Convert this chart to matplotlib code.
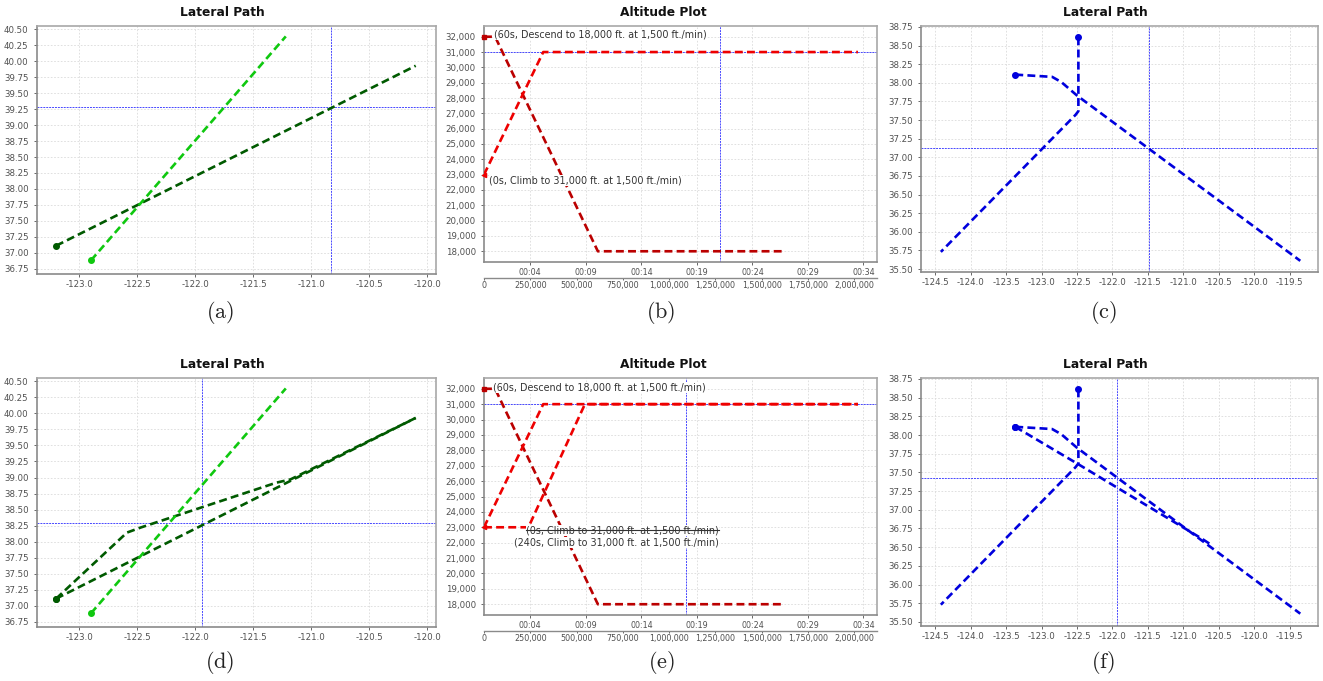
import matplotlib
matplotlib.use('Agg')
import matplotlib.pyplot as plt
from matplotlib.lines import Line2D

W, H = 1323, 681
plt.rcParams['font.family'] = ['DejaVu Sans']
plt.rcParams['mathtext.fontset'] = 'cm'

# ---------------- data ----------------
# (a) / (d) lateral path (longitude, latitude)
a_dark_lon = [-123.20, -120.10]
a_dark_lat = [37.11, 39.93]
a_light_lon = [-122.90, -121.22]
a_light_lat = [36.88, 40.39]
a_cross = (-120.83, 39.29)

d_dark2_lon = [-123.20, -122.59, -122.47, -121.30, -121.18, -120.10]
d_dark2_lat = [37.11, 38.14, 38.22, 38.92, 38.97, 39.93]
d_cross = (-121.945, 38.29)

lat_ticks_ad = [36.75, 37.00, 37.25, 37.50, 37.75, 38.00, 38.25, 38.50, 38.75,
                39.00, 39.25, 39.50, 39.75, 40.00, 40.25, 40.50]
lon_ticks_ad = [-123.0, -122.5, -122.0, -121.5, -121.0, -120.5, -120.0]

# (b) / (e) altitude plot (time in ms, altitude in ft)
desc_t = [0, 60000, 615000, 1625000]
desc_alt = [32000, 32000, 18000, 18000]
climb_t = [0, 320000, 2020000]
climb_alt = [23000, 31000, 31000]
climb240_t = [0, 240000, 545000, 2020000]
climb240_alt = [23000, 23000, 31000, 31000]
b_cross = (1277000, 31000)
e_cross = (1093000, 31000)
alt_ticks = list(range(18000, 32001, 1000))
ms_ticks = [0, 250000, 500000, 750000, 1000000, 1250000, 1500000, 1750000, 2000000]
time_tick_pos = [250000, 550000, 850000, 1150000, 1450000, 1750000, 2050000]
time_labels = ['00:04', '00:09', '00:14', '00:19', '00:24', '00:29', '00:34']
desc_label = '(60s, Descend to 18,000 ft. at 1,500 ft./min)'
climb_label = '(0s, Climb to 31,000 ft. at 1,500 ft./min)'
climb240_label = '(240s, Climb to 31,000 ft. at 1,500 ft./min)'

# (c) / (f) lateral path
c_a_lon = [-122.48, -122.48, -122.52, -124.42]
c_a_lat = [38.61, 37.62, 37.57, 35.73]
c_b_lon = [-123.37, -122.85, -122.72, -122.50, -119.35]
c_b_lat = [38.11, 38.08, 38.01, 37.83, 35.61]
f_b2_lon = [-123.37, -123.30, -122.50, -120.75, -120.62]
f_b2_lat = [38.11, 38.07, 37.62, 36.62, 36.54]
c_cross = (-121.48, 37.12)
f_cross = (-121.93, 37.43)
lat_ticks_cf = [35.50, 35.75, 36.00, 36.25, 36.50, 36.75, 37.00, 37.25, 37.50,
                37.75, 38.00, 38.25, 38.50, 38.75]
lon_ticks_cf = [-124.5, -124.0, -123.5, -123.0, -122.5, -122.0, -121.5, -121.0,
                -120.5, -120.0, -119.5]

titles = ['Lateral Path', 'Altitude Plot', 'Lateral Path',
          'Lateral Path', 'Altitude Plot', 'Lateral Path']
panel_letters = ['a', 'b', 'c', 'd', 'e', 'f']

# ---------------- style ----------------
DARK_GREEN = '#005a00'
LIGHT_GREEN = '#0fc80f'
DARK_RED = '#bb0000'
RED = '#ee0000'
BLUE = '#0000dd'
CROSS = '#4848ff'
TICKC = '#505050'
LW = 1.9
DASH = (3.0, 1.6)

fig = plt.figure(figsize=(W / 100, H / 100), dpi=100)
fig.patch.set_facecolor('white')


def add_ax(x0, x1, ytop, ybot):
    return fig.add_axes([x0 / W, 1 - ybot / H, (x1 - x0) / W, (ybot - ytop) / H])


def style(ax):
    ax.set_facecolor('white')
    for s in ax.spines.values():
        s.set_color('#a8a8a8')
        s.set_linewidth(1.2)
    ax.spines['left'].set_color('#8a8a8a')
    ax.spines['bottom'].set_color('#8a8a8a')
    ax.tick_params(labelsize=6.2, colors=TICKC, length=2, width=0.6, pad=2)
    ax.tick_params(axis='y', pad=4)
    ax.grid(True, color='#dadada', lw=0.6, ls=(0, (2, 2)))
    ax.set_axisbelow(True)


def cross(ax, pt):
    ax.axvline(pt[0], color=CROSS, lw=0.7, ls=(0, (2.0, 1.0)), zorder=1.5)
    ax.axhline(pt[1], color=CROSS, lw=0.7, ls=(0, (2.0, 1.0)), zorder=1.5)


def path(ax, xs, ys, color, marker=True):
    ax.plot(xs, ys, color=color, lw=LW, ls='--', dashes=DASH, zorder=3)
    if marker:
        ax.plot(xs[0], ys[0], 'o', color=color, ms=4, zorder=4, clip_on=False)


def lateral_ad(ax):
    style(ax)
    ax.set_xlim(-123.365, -119.925)
    ax.set_ylim(36.667, 40.553)
    ax.set_xticks(lon_ticks_ad)
    ax.set_xticklabels([f'{v:.1f}' for v in lon_ticks_ad])
    ax.set_yticks(lat_ticks_ad)
    ax.set_yticklabels([f'{v:.2f}' for v in lat_ticks_ad])


def lateral_cf(ax, ylo):
    style(ax)
    ax.set_xlim(-124.70, -119.10)
    ax.set_ylim(ylo, 38.763)
    ax.set_xticks(lon_ticks_cf)
    ax.set_xticklabels([f'{v:.1f}' for v in lon_ticks_cf])
    ax.set_yticks(lat_ticks_cf)
    ax.set_yticklabels([f'{v:.2f}' for v in lat_ticks_cf])


def altitude(ax, hpx):
    style(ax)
    ax.set_xlim(0, 2123000)
    ax.set_ylim(17300, 32700)
    ax.set_yticks(alt_ticks)
    ax.set_yticklabels([f'{v:,}' for v in alt_ticks])
    ax.set_xticks(time_tick_pos)
    ax.set_xticklabels(time_labels)
    ax.tick_params(axis='x', labelsize=5.8, length=2, pad=2.5)
    sn = ax.secondary_xaxis(-16 / hpx)
    sn.set_xticks(ms_ticks)
    sn.set_xticklabels([f'{v:,}' for v in ms_ticks])
    sn.tick_params(labelsize=5.8, colors=TICKC, length=1.5, width=0.6, pad=1)
    sn.spines['bottom'].set_color('#8a8a8a')
    sn.spines['bottom'].set_linewidth(1.0)


TXT = dict(fontsize=6.9, color='#333333', zorder=5,
           bbox=dict(facecolor='white', edgecolor='none', pad=0.3))

# ---- (a)
ax = add_ax(37, 436, 26, 274)
lateral_ad(ax)
cross(ax, a_cross)
path(ax, a_dark_lon, a_dark_lat, DARK_GREEN)
path(ax, a_light_lon, a_light_lat, LIGHT_GREEN)

# ---- (d)
ax = add_ax(37, 436, 378, 627)
lateral_ad(ax)
cross(ax, d_cross)
path(ax, a_dark_lon, a_dark_lat, DARK_GREEN)
path(ax, d_dark2_lon, d_dark2_lat, DARK_GREEN)
path(ax, a_light_lon, a_light_lat, LIGHT_GREEN)

# ---- (b)
ax = add_ax(484, 877, 26, 262)
altitude(ax, 236)
cross(ax, b_cross)
path(ax, desc_t, desc_alt, DARK_RED, marker=False)
path(ax, climb_t, climb_alt, RED, marker=False)
ax.plot(desc_t[0], desc_alt[0], 's', color=DARK_RED, ms=3, clip_on=False, zorder=4)
ax.plot(climb_t[0], climb_alt[0], '<', color=RED, ms=3, clip_on=False, zorder=4)
ax.annotate(desc_label, (desc_t[0], desc_alt[0]), xytext=(10, 2),
            textcoords='offset pixels', ha='left', va='center', **TXT)
ax.annotate(climb_label, (climb_t[0], climb_alt[0]), xytext=(5, -6),
            textcoords='offset pixels', ha='left', va='center', **TXT)

# ---- (e)
ax = add_ax(484, 877, 378, 615)
altitude(ax, 237)
cross(ax, e_cross)
path(ax, desc_t, desc_alt, DARK_RED, marker=False)
path(ax, climb_t, climb_alt, RED, marker=False)
path(ax, climb240_t, climb240_alt, RED, marker=False)
ax.plot(desc_t[0], desc_alt[0], 's', color=DARK_RED, ms=3, clip_on=False, zorder=4)
ax.plot(climb_t[0], climb_alt[0], '<', color=RED, ms=3, clip_on=False, zorder=4)
ax.annotate(desc_label, (desc_t[0], desc_alt[0]), xytext=(9, 1),
            textcoords='offset pixels', ha='left', va='center', **TXT)
t_struck = ax.annotate(climb_label, (climb_t[0], climb_alt[0]), xytext=(235, -3),
                       textcoords='offset pixels', ha='right', va='center', **TXT)
ax.annotate(climb240_label, (climb240_t[0], climb240_alt[0]), xytext=(235, -15),
            textcoords='offset pixels', ha='right', va='center', **TXT)

# ---- (c)
ax = add_ax(921, 1318, 26, 272)
lateral_cf(ax, 35.46)
cross(ax, c_cross)
path(ax, c_a_lon, c_a_lat, BLUE)
path(ax, c_b_lon, c_b_lat, BLUE)

# ---- (f)
ax = add_ax(921, 1318, 378, 626)
lateral_cf(ax, 35.445)
cross(ax, f_cross)
path(ax, c_a_lon, c_a_lat, BLUE)
path(ax, c_b_lon, c_b_lat, BLUE)
path(ax, f_b2_lon, f_b2_lat, BLUE)

# titles and panel labels (centred on each sub-figure)
centres = [222, 663, 1105, 222, 663, 1105]
title_y = [12, 12, 12, 364, 364, 364]
label_y = [312, 312, 312, 663, 663, 663]
for t, lab, x, ty, ly in zip(titles, panel_letters, centres, title_y, label_y):
    fig.text(x / W, 1 - ty / H, t, ha='center', va='center', fontsize=8.8,
             fontweight='bold', color='#111111')
    fig.text((x - 2) / W, 1 - ly / H, r'$\mathrm{(' + lab + ')}$', ha='center',
             va='center', fontsize=16, color='#222222')

# strike-through of the overridden instruction in (e)
fig.canvas.draw()
bb = t_struck.get_window_extent(fig.canvas.get_renderer())
yc = (bb.y0 + bb.y1) / 2 + 0.5
fig.add_artist(Line2D([bb.x0 / W, bb.x1 / W], [yc / H, yc / H],
                      color='#333333', lw=0.8, zorder=6))

fig.savefig('out.png', dpi=100, facecolor='white')
